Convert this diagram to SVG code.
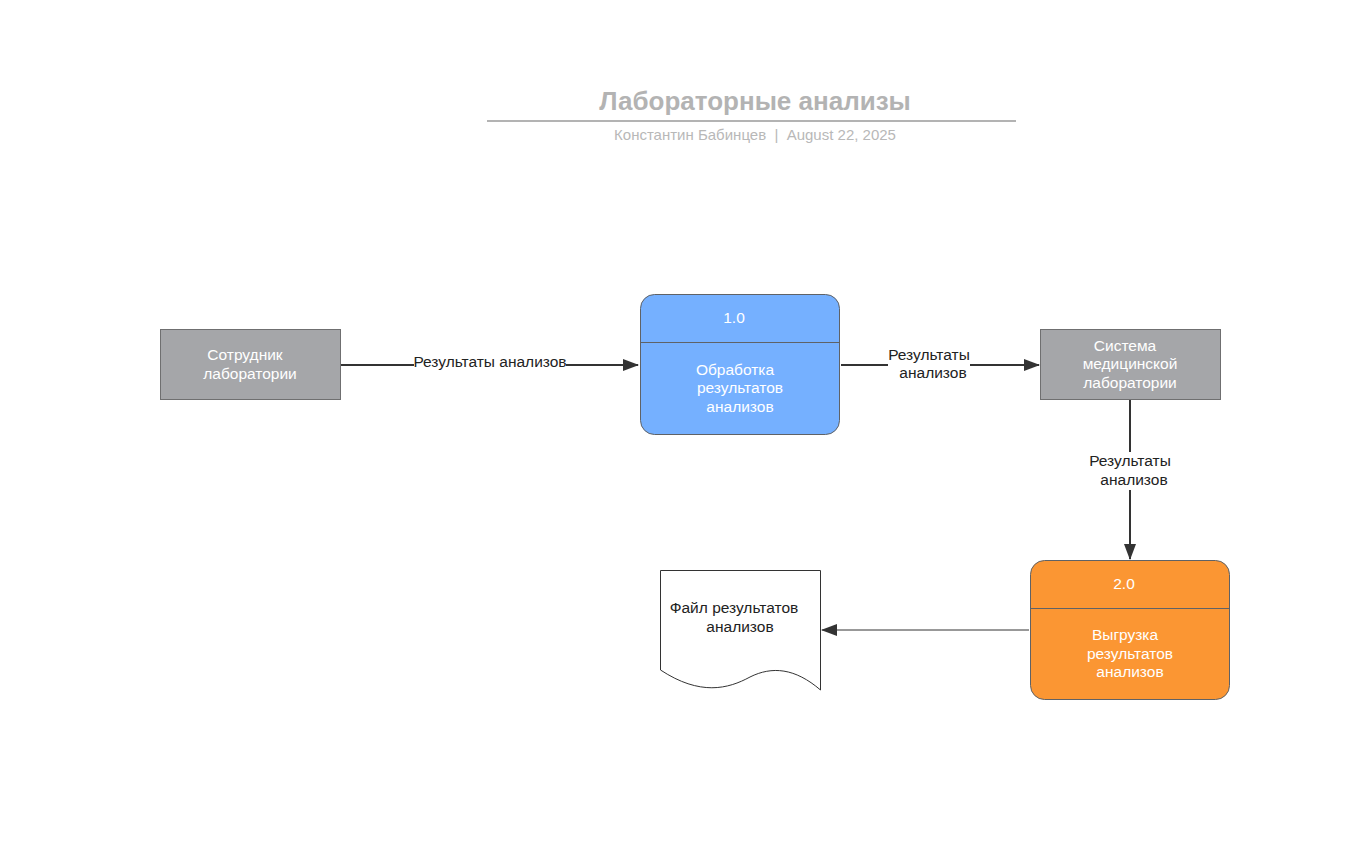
<svg xmlns="http://www.w3.org/2000/svg" width="1367" height="853" viewBox="0 0 1367 853">
<defs>
<style>
text{font-family:"Liberation Sans",Arial,sans-serif;}
.t{font-size:15.5px;fill:#ffffff;text-anchor:middle;}
.l{font-size:15.5px;fill:#222222;text-anchor:middle;}
.ent{fill:#a5a6a9;stroke:#6f6f70;stroke-width:1;}
.conn{stroke:#333333;stroke-width:2;fill:none;}
</style>
<marker id="ah" markerWidth="16" markerHeight="12" refX="15" refY="6" orient="auto" markerUnits="userSpaceOnUse">
<path d="M0,0 L16,6 L0,12 Z" fill="#333333"/>
</marker>
</defs>
<rect width="1367" height="853" fill="#ffffff"/>
<g id="title">
<text x="755" y="110" style="font-size:26px;font-weight:bold;fill:#b3b3b3;text-anchor:middle">Лабораторные анализы</text>
<line x1="487" y1="121" x2="1016" y2="121" stroke="#b3b3b3" stroke-width="2"/>
<text x="755" y="140" xml:space="preserve" style="font-size:15px;fill:#b8b8b8;text-anchor:middle">Константин Бабинцев  |  August 22, 2025</text>
</g>
<g id="connectors">
<line class="conn" x1="341" y1="365" x2="638" y2="365" marker-end="url(#ah)"/>
<rect x="414" y="354" width="152" height="18" fill="#ffffff"/>
<text class="l" x="490" y="367">Результаты анализов</text>
<line class="conn" x1="841" y1="365" x2="1039" y2="365" marker-end="url(#ah)"/>
<rect x="888" y="346" width="82" height="36" fill="#ffffff"/>
<text class="l" x="929" y="360">Результаты</text>
<text class="l" x="933" y="378">анализов</text>
<line class="conn" x1="1130" y1="400" x2="1130" y2="559" marker-end="url(#ah)"/>
<rect x="1088" y="452" width="86" height="38" fill="#ffffff"/>
<text class="l" x="1130" y="466">Результаты</text>
<text class="l" x="1134" y="485">анализов</text>
<line x1="1029" y1="630" x2="822" y2="630" stroke="#333333" stroke-width="1" marker-end="url(#ah)"/>
</g>
<g id="n1">
<rect class="ent" x="160.5" y="329.5" width="180" height="70"/>
<text class="t" x="245" y="360">Сотрудник</text>
<text class="t" x="250" y="379">лаборатории</text>
</g>
<g id="p1">
<rect x="640.5" y="294.5" width="199" height="140" rx="14" fill="#75b0ff" stroke="#5f6266" stroke-width="1"/>
<line x1="640.5" y1="342.5" x2="839.5" y2="342.5" stroke="#5f6266" stroke-width="1"/>
<text class="t" x="734" y="323">1.0</text>
<text class="t" x="735" y="375">Обработка</text>
<text class="t" x="740" y="393">результатов</text>
<text class="t" x="740" y="412">анализов</text>
</g>
<g id="n2">
<rect class="ent" x="1040.5" y="329.5" width="180" height="70"/>
<text class="t" x="1125" y="351">Система</text>
<text class="t" x="1130" y="369">медицинской</text>
<text class="t" x="1130" y="388">лаборатории</text>
</g>
<g id="p2">
<rect x="1030.5" y="560.5" width="199" height="139" rx="14" fill="#fb9633" stroke="#5f6266" stroke-width="1"/>
<line x1="1030.5" y1="608.5" x2="1229.5" y2="608.5" stroke="#5f6266" stroke-width="1"/>
<text class="t" x="1124" y="589">2.0</text>
<text class="t" x="1125" y="640">Выгрузка</text>
<text class="t" x="1130" y="659">результатов</text>
<text class="t" x="1130" y="677">анализов</text>
</g>
<g id="d1">
<path d="M660.5,570.5 H820.5 V690 C795,668 772,666 750,677 C728,689 700,696 660.5,670 Z" fill="#ffffff" stroke="#333333" stroke-width="1"/>
<text class="l" x="734" y="613">Файл результатов</text>
<text class="l" x="740" y="632">анализов</text>
</g>
</svg>
